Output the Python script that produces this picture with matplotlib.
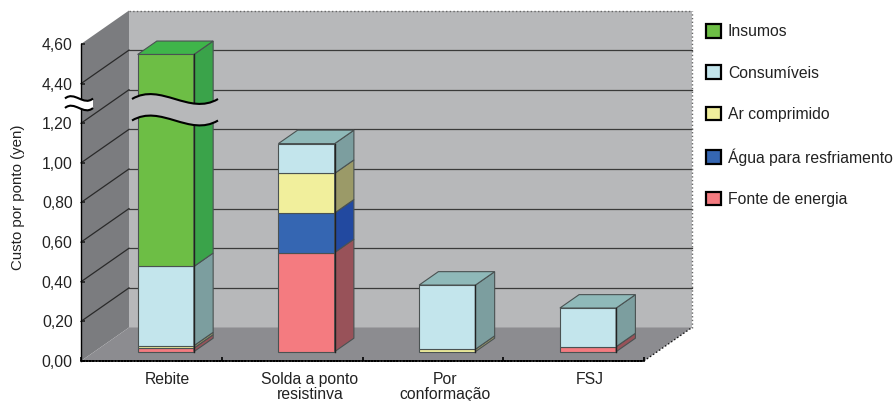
import numpy as np
import matplotlib
matplotlib.use("Agg")
import matplotlib.pyplot as plt
from matplotlib.patches import Patch, Polygon, PathPatch
from matplotlib.path import Path
from matplotlib.transforms import IdentityTransform

plt.rcParams['font.family'] = ['Liberation Sans', 'DejaVu Sans']

categories = ["Rebite", "Solda a ponto\nresistinva", "Por\nconformação", "FSJ"]
tick_values = [0.0, 0.2, 0.4, 0.6, 0.8, 1.0, 1.2, 4.4, 4.6]
tick_labels = ["0,00", "0,20", "0,40", "0,60", "0,80", "1,00", "1,20", "4,40", "4,60"]

# cost per spot, bottom of the stack first
fonte = [0.018, 0.50, 0.0, 0.025]
agua = [0.0, 0.20, 0.0, 0.0]
ar = [0.012, 0.20, 0.012, 0.0]
consumiveis = [0.40, 0.15, 0.324, 0.195]
insumos = [4.07, 0.0, 0.0, 0.0]

# name, values, front, side, top
series = [
    ("Fonte de energia", fonte, "#f47b80", "#985259", "#b9666c"),
    ("Água para resfriamento", agua, "#3566b2", "#2249a0", "#2a55a8"),
    ("Ar comprimido", ar, "#f1ef9c", "#9b9a68", "#b9b87e"),
    ("Consumíveis", consumiveis, "#c3e5ec", "#7c9e9f", "#8fb9b9"),
    ("Insumos", insumos, "#6dbe45", "#3aa34a", "#3fb54a"),
]

WALL = "#b7b8ba"
SIDE_WALL = "#7b7c7f"
FLOOR = "#8c8c90"
EDGE = "#4a5252"
DEPTH_X, DEPTH_Y = 48, 33.5
BAR_WIDTH = 0.40
BAR_SHIFT = 0.007
BAR_D0, BAR_D1 = 0.28, 0.68
W, H = 896, 401


def forward(v):
    v = np.asarray(v, dtype=float)
    return np.interp(v, [-1, 1.2, 4.4, 5.6], [-1, 1.2, 1.4, 2.6])


def inverse(s):
    s = np.asarray(s, dtype=float)
    return np.interp(s, [-1, 1.2, 1.4, 2.6], [-1, 1.2, 4.4, 5.6])


fig = plt.figure(figsize=(W / 100, H / 100), dpi=100)
ax = fig.add_axes([81 / W, (H - 361) / H, 563 / W, 317 / H])
ax.set_yscale('function', functions=(forward, inverse))
ax.set_xlim(0, 4)
ax.set_ylim(0, 4.6)
ax.patch.set_visible(False)


def pt(x, v, d=0.0):
    # screen position of a data point pushed back by the depth fraction d
    px, py = ax.transData.transform((x, v))
    return px + DEPTH_X * d, py + DEPTH_Y * d


def poly(points, color, z, edge=None, lw=0.0):
    ax.add_patch(Polygon(points, closed=True, facecolor=color, edgecolor=edge or color,
                         linewidth=lw, transform=IdentityTransform(), clip_on=False, zorder=z))


def seg(a, b, color, lw, z, ls='-'):
    ax.plot([a[0], b[0]], [a[1], b[1]], color=color, lw=lw, ls=ls,
            transform=IdentityTransform(), clip_on=False, zorder=z)


# walls and floor
poly([pt(0, 0, 1), pt(4, 0, 1), pt(4, 4.6, 1), pt(0, 4.6, 1)], WALL, 1)
poly([pt(0, 0), pt(0, 0, 1), pt(0, 4.6, 1), pt(0, 4.6)], SIDE_WALL, 1)
poly([pt(0, 0), pt(4, 0), pt(4, 0, 1), pt(0, 0, 1)], FLOOR, 1)

for v in tick_values[1:-1]:
    seg(pt(0, v), pt(0, v, 1), "#2a2a2a", 0.9, 2)
    seg(pt(0, v, 1), pt(4, v, 1), "#3a3a3a", 0.9, 2)

seg(pt(0, 4.6, 1), pt(4, 4.6, 1), "#666666", 1.0, 2, ls=':')
seg(pt(4, 0, 1), pt(4, 4.6, 1), "#666666", 1.0, 2, ls=':')
seg(pt(4, 0), pt(4, 0, 1), "#111111", 1.0, 2, ls=':')

# stacked boxes
z = 3
for i in range(len(categories)):
    x0 = i + 0.5 + BAR_SHIFT - BAR_WIDTH / 2
    x1 = i + 0.5 + BAR_SHIFT + BAR_WIDTH / 2
    base = 0.0
    last = None
    for name, vals, front, side, top in series:
        if vals[i] <= 0:
            continue
        t = base + vals[i]
        poly([pt(x0, base, BAR_D0), pt(x1, base, BAR_D0), pt(x1, t, BAR_D0), pt(x0, t, BAR_D0)],
             front, z, EDGE, 0.8)
        poly([pt(x1, base, BAR_D0), pt(x1, base, BAR_D1), pt(x1, t, BAR_D1), pt(x1, t, BAR_D0)],
             side, z, EDGE, 0.8)
        base = t
        last = top
    poly([pt(x0, base, BAR_D0), pt(x1, base, BAR_D0), pt(x1, base, BAR_D1), pt(x0, base, BAR_D1)],
         last, z, EDGE, 0.8)
    seg(pt(x1, 0, BAR_D0), pt(x1, base, BAR_D0), "#222222", 1.0, z + 0.1)


def wave(x0, x1, y, amp):
    return [(x0, y), (x0 + (x1 - x0) / 3, y + 2 * amp), (x0 + 2 * (x1 - x0) / 3, y - 2 * amp), (x1, y)]


def stroke(points, z):
    path = Path(points, [Path.MOVETO, Path.CURVE4, Path.CURVE4, Path.CURVE4])
    ax.add_patch(PathPatch(path, fill=False, edgecolor="black", lw=1.5,
                           transform=IdentityTransform(), clip_on=False, zorder=z))


def axis_break(x0, x1, y_top, gap, amp, color, z):
    upper = wave(x0, x1, y_top, amp)
    lower = wave(x0, x1, y_top - gap, amp)
    codes = [Path.MOVETO, Path.CURVE4, Path.CURVE4, Path.CURVE4, Path.LINETO,
             Path.CURVE4, Path.CURVE4, Path.CURVE4, Path.CLOSEPOLY]
    verts = upper + lower[::-1] + [upper[0]]
    ax.add_patch(PathPatch(Path(verts, codes), facecolor=color, edgecolor="none",
                           transform=IdentityTransform(), clip_on=False, zorder=z))
    stroke(upper, z + 0.1)
    stroke(lower, z + 0.1)


# scale break across the tall bar and on the axis
axis_break(132, 218, H - 99, 21.5, 8.5, WALL, 8)
axis_break(65, 93, H - 98.5, 9.5, 4.0, "white", 8)

ax.set_yticks(tick_values)
ax.set_yticklabels(tick_labels)
ax.yaxis.set_minor_locator(plt.NullLocator())
ax.tick_params(axis='y', direction='in', length=3, width=1.2, pad=6, labelsize=11.3, colors="#222222")
ax.set_xticks([0.611, 1.627, 2.586, 3.616])
ax.set_xticklabels(categories, linespacing=1.0)
ax.set_xticks([0, 1, 2, 3, 4], minor=True)
ax.tick_params(axis='x', which='major', length=0, pad=8, labelsize=11.3, colors="#222222")
ax.tick_params(axis='x', which='minor', direction='in', length=3, width=1.2)
for s in ('top', 'right'):
    ax.spines[s].set_visible(False)
ax.spines['left'].set_linewidth(1.0)
ax.spines['bottom'].set_linewidth(1.2)
ax.spines['bottom'].set_linestyle((0, (1.5, 0.4)))
ax.spines['left'].set_zorder(2.5)
ax.spines['bottom'].set_zorder(2.5)

fig.text(18 / W, 1 - 197 / H, "Custo por ponto (yen)", rotation=90, ha='center', va='center',
         fontsize=10.8, color="#222222")

handles = [Patch(facecolor=s[2], edgecolor="black", linewidth=1.6, label=s[0]) for s in series[::-1]]
fig.legend(handles=handles, loc='upper left', bbox_to_anchor=(706 / W, 1 - 24 / H), frameon=False,
           borderpad=0, borderaxespad=0, handlelength=0.95, handleheight=0.95, handletextpad=0.45,
           labelspacing=1.67, prop={'size': 11.3}, labelcolor="#222222")

fig.savefig("out.png", dpi=100)
